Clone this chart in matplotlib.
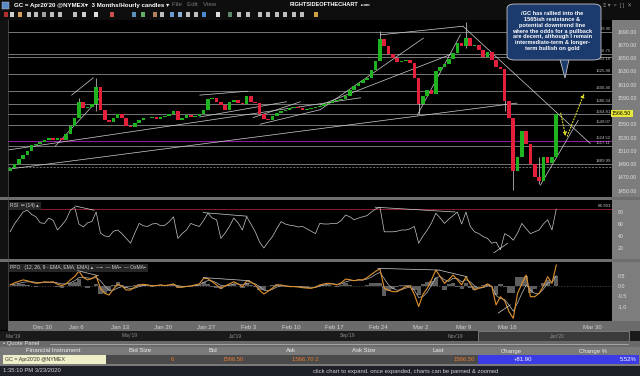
import numpy as np
import matplotlib.pyplot as plt
from matplotlib.patches import Rectangle, FancyBboxPatch, Polygon

plt.rcParams['font.family'] = ['Liberation Sans', 'DejaVu Sans']

W, H = 640, 376

# ---- data: 2 samples per trading day, Dec 23 2019 -> Mar 23 2020 ----
close = [1484, 1490, 1498, 1503, 1510, 1518, 1520, 1523, 1526, 1529,
         1527, 1530, 1527, 1536, 1548, 1560, 1584, 1574, 1576, 1581,
         1606, 1572, 1556, 1553, 1560, 1565, 1560, 1547, 1546, 1552,
         1556, 1560, 1559, 1561, 1558, 1561, 1563, 1566, 1570, 1556,
         1560, 1564, 1561, 1563, 1566, 1571, 1588, 1590, 1584, 1579,
         1571, 1584, 1586, 1582, 1580, 1592, 1584, 1582, 1566, 1558,
         1556, 1562, 1567, 1570, 1572, 1574, 1576, 1575, 1571, 1573,
         1574, 1576, 1578, 1580, 1582, 1585, 1586, 1588, 1593, 1601,
         1608, 1612, 1617, 1620, 1632, 1646, 1678, 1668, 1656, 1650,
         1644, 1646, 1647, 1642, 1620, 1580, 1592, 1602, 1596, 1630,
         1636, 1641, 1648, 1658, 1672, 1668, 1680, 1668, 1670, 1662,
         1652, 1659, 1647, 1636, 1634, 1585, 1560, 1480, 1500, 1540,
         1520, 1490, 1470, 1465, 1500, 1492, 1500, 1566]
first_open = 1480

spike_idx = [16, 20, 86, 95, 106, 115, 117, 123]
spike_hi = [1590, 1620, 1691, 1602, 1704, 1600, 1560, 1500]
spike_lo = [1568, 1570, 1660, 1565, 1665, 1570, 1451, 1460]

rsi = [47, 60, 70, 80, 83, 76, 72, 62, 61, 70, 66, 50, 58, 67, 83, 88, 60, 55, 62, 64,
       80, 45, 40, 39, 48, 50, 44, 36, 28, 45, 61, 57, 56, 60, 61, 57, 58, 64, 72, 36,
       44, 50, 61, 58, 56, 66, 78, 70, 67, 36, 45, 56, 70, 62, 50, 72, 60, 47, 30, 20,
       30, 39, 52, 64, 60, 58, 57, 55, 56, 52, 48, 44, 61, 60, 60, 61, 61, 66, 75, 72,
       67, 70, 72, 74, 80, 85, 88, 47, 47, 47, 48, 50, 50, 52, 56, 28, 40, 50, 62, 78,
       70, 61, 68, 74, 80, 60, 80, 56, 47, 44, 39, 36, 28, 30, 17, 44, 40, 33, 45, 61,
       52, 44, 47, 50, 60, 67, 50, 85]
rsi_level = 84.903

ppo = [0.05, 0.15, 0.22, 0.29, 0.25, 0.18, 0.13, 0.15, 0.2, 0.18,
       0.2, 0.08, 0.02, 0.1, 0.29, 0.45, 0.71, 0.4, 0.29, 0.35,
       0.49, -0.11, -0.35, -0.43, -0.15, 0.08, 0.0, -0.19, -0.19, -0.05,
       0.05, 0.08, 0.05, 0.0, 0.02, 0.05, 0.02, 0.05, 0.1, -0.06,
       -0.06, -0.02, 0.0, 0.05, 0.1, 0.37, 0.35, 0.2, 0.05, -0.11,
       0.0, 0.1, 0.2, 0.1, -0.03, 0.24, 0.2, 0.05, -0.2, -0.38,
       -0.25, -0.1, 0.05, 0.05, 0.0, -0.03, -0.03, -0.05, -0.08, -0.1,
       -0.11, -0.05, 0.05, 0.1, 0.13, 0.1, 0.05, 0.15, 0.33, 0.3,
       0.25, 0.3, 0.29, 0.4, 0.55, 0.7, 0.81, -0.11, -0.2, -0.27,
       -0.27, -0.15, -0.03, 0.0, -0.4, -0.98, -0.4, -0.11, 0.3, 0.76,
       0.45, 0.13, 0.3, 0.52, 0.3, 0.05, 0.44, 0.1, -0.19, -0.1,
       -0.05, 0.1, -0.03, -0.9, -0.51, -0.7, -1.22, -1.54, -0.35, 0.1,
       0.52, -0.51, -0.51, -0.35, 0.0, 0.44, 0.13, 1.0]
ppo_ma = [0.05, 0.08, 0.12, 0.18, 0.2, 0.2, 0.18, 0.17, 0.18, 0.18,
          0.18, 0.15, 0.1, 0.1, 0.15, 0.25, 0.4, 0.42, 0.38, 0.37,
          0.4, 0.25, 0.0, -0.2, -0.2, -0.1, -0.03, -0.08, -0.12, -0.1,
          -0.03, 0.02, 0.04, 0.03, 0.03, 0.04, 0.03, 0.04, 0.06, 0.02,
          -0.02, -0.02, -0.01, 0.02, 0.05, 0.18, 0.26, 0.24, 0.15, 0.03,
          0.0, 0.04, 0.1, 0.1, 0.05, 0.12, 0.15, 0.1, -0.02, -0.2,
          -0.23, -0.16, -0.05, 0.0, 0.0, -0.01, -0.02, -0.03, -0.05, -0.07,
          -0.09, -0.07, -0.01, 0.05, 0.09, 0.1, 0.08, 0.1, 0.2, 0.25,
          0.26, 0.28, 0.28, 0.33, 0.42, 0.55, 0.65, 0.35, 0.05, -0.12,
          -0.2, -0.18, -0.1, -0.05, -0.2, -0.55, -0.5, -0.3, 0.05, 0.4,
          0.45, 0.3, 0.22, 0.37, 0.35, 0.2, 0.3, 0.2, 0.0, -0.1,
          -0.08, 0.0, -0.01, -0.45, -0.6, -0.65, -0.9, -1.2, -0.8, -0.35,
          0.05, -0.2, -0.35, -0.35, -0.15, 0.15, 0.15, 0.5]

# horizontal support / resistance levels
hlines = [1689.90, 1656.75, 1652.16, 1625.90, 1600.40, 1580.34,
          1564.81, 1549.07, 1517.11, 1489.99]
purple_level = 1524.52
dashed_level = 1486.0
last_price = 1566.50

# trendlines: (day0, price0, day1, price1)
price_trend = [(-0.1, 1482, 59.2, 1582), (-0.1, 1511, 41.0, 1590),
               (7.4, 1594, 9.9, 1620), (5.5, 1517, 10.7, 1590),
               (22.3, 1594, 27.9, 1600), (22.3, 1561, 32.4, 1584),
               (28.5, 1560, 34.0, 1584), (29.3, 1550, 36.3, 1572),
               (43.3, 1685, 52.9, 1698), (52.9, 1698, 67.7, 1521),
               (36.3, 1572, 48.3, 1680), (47.6, 1564, 52.6, 1685),
               (36.3, 1579, 51.4, 1655), (61.9, 1458, 66.3, 1556)]
rsi_trend = [(7.8, 90, 10.0, 83), (22.7, 79, 27.8, 73),
             (42.7, 88, 52.0, 80), (56.5, 12, 58.1, 28)]
ppo_trend = [(8.1, 0.73, 10.5, 0.49), (22.7, 0.40, 28.1, 0.25),
             (43.0, 0.84, 50.1, 0.76), (50.1, 0.76, 53.4, 0.44),
             (57.0, -1.29, 58.4, -0.9)]
# projected path (yellow arrows)
proj_d = [64.2, 64.9, 67.1]
proj_p = [1571, 1528, 1600]

date_pos = [4, 8, 13, 18, 23, 28, 33, 38, 43, 48, 53, 58, 68]
date_lbl = ['Dec 30', 'Jan 6', 'Jan 13', 'Jan 20', 'Jan 27', 'Feb 3', 'Feb 10',
            'Feb 17', 'Feb 24', 'Mar 2', 'Mar 9', 'Mar 16', 'Mar 30']
price_ticks = list(range(1450, 1691, 20))

note = ("/GC has rallied into the\n1565ish resistance &\npotential downtrend line\n"
        "where the odds for a pullback\nare decent, although I remain\n"
        "intermediate-term & longer-\nterm bullish on gold")


def px(x0, y0, x1, y1):
    return [x0 / W, 1 - y1 / H, (x1 - x0) / W, (y1 - y0) / H]


def frect(x0, y0, x1, y1, color, z=-5, **kw):
    fig.add_artist(Rectangle((x0 / W, 1 - y1 / H), (x1 - x0) / W, (y1 - y0) / H,
                             transform=fig.transFigure, facecolor=color,
                             edgecolor=kw.pop('ec', 'none'), lw=kw.pop('lw', 0),
                             zorder=z, **kw))


def ftext(x, y, s, **kw):
    fig.text(x / W, 1 - y / H, s, va='center', **kw)


fig = plt.figure(figsize=(6.4, 3.76), dpi=100)
fig.patch.set_facecolor('black')

# background chrome
frect(0, 0, 640, 20, '#0e0e0e')
frect(0, 20, 8, 330, '#121212')
frect(612, 20, 640, 321, '#7d7d7d')
frect(0, 197, 640, 200, '#6e6e6e')
frect(0, 259, 640, 262, '#6e6e6e')
frect(8, 321, 640, 331, '#6b6b6b')
frect(0, 331, 640, 341, '#1a1a1a')
frect(478, 331, 629, 341, '#3b3b3b', ec='#9a9a9a', lw=0.5)
frect(0, 341, 640, 366, '#7a7a7a')
frect(0, 341, 640, 347, '#6a6a6a')
frect(3, 355, 106, 364, '#eeeec9')
frect(106, 355, 478, 364, '#4a4a4a')
frect(478, 355, 639, 364, '#3c3ce6')
frect(0, 366, 640, 376, '#1d2127')

n = len(close)
x = np.arange(n) / 2 + 0.25
c = np.array(close, dtype=float)
o = np.concatenate([[first_open], c[:-1]])

# ---------------- price panel ----------------
ax = fig.add_axes(px(8, 20, 612, 197))
ax.set_facecolor('black')
ax.set_xlim(0, 70.23)
ax.set_ylim(1440.2, 1707.4)
for lv in hlines:
    ax.axhline(lv, color='#8a8a8a', lw=0.6, zorder=1)
    below = lv == 1652.16
    ax.text(70.1, lv - 1.2 if below else lv + 1.2, f'{lv:.2f}', color='#bdbdbd',
            fontsize=3.1, ha='right', va='top' if below else 'bottom', zorder=6)
ax.axhline(purple_level, color='#8a1f9c', lw=0.8, zorder=1)
ax.text(70.1, purple_level + 1.2, f'{purple_level:.2f}', color='#bdbdbd',
        fontsize=3.1, ha='right', va='bottom', zorder=6)
ax.axhline(dashed_level, color='#9a9a9a', lw=0.5, ls=(0, (3, 2)), zorder=1)
for d0, p0, d1, p1 in price_trend:
    ax.plot([d0, d1], [p0, p1], color='#d0d0d0', lw=0.5, zorder=2)

up = c >= o
body = np.where(np.abs(c - o) < 0.8, 0.8, c - o)
ax.vlines(x[spike_idx], spike_lo, spike_hi, color='#d8d8d8', lw=0.5, zorder=3)
ax.bar(x[up], body[up], bottom=o[up], width=0.42, color='#1fb31f', zorder=4)
ax.bar(x[~up], body[~up], bottom=o[~up], width=0.42, color='#e3203c', zorder=4)

ax.annotate('', xy=(proj_d[1], proj_p[1]), xytext=(proj_d[0], proj_p[0]),
            arrowprops=dict(arrowstyle='-|>', color='#e6e22a', lw=0.8, ls=':',
                            mutation_scale=5), zorder=7)
ax.annotate('', xy=(proj_d[2], proj_p[2]), xytext=(proj_d[1], proj_p[1]),
            arrowprops=dict(arrowstyle='-|>', color='#e6e22a', lw=0.8, ls=':',
                            mutation_scale=5), zorder=7)

ax.yaxis.tick_right()
ax.set_yticks(price_ticks)
# the 1570 label is covered by the last-price marker
ax.set_yticklabels(['' if abs(t - last_price) < 8 else f'{t:.2f}' for t in price_ticks])
ax.tick_params(axis='y', length=0, pad=4, labelsize=3.8, labelcolor='#e2e2e2')
ax.set_xticks([])
for s in ax.spines.values():
    s.set_visible(False)
ax.text(1.0, (last_price - 1440.2) / (1707.4 - 1440.2), f'{last_price:.2f}',
        transform=ax.transAxes, fontsize=3.8, color='black', ha='left', va='center',
        bbox=dict(boxstyle='square,pad=0.25', fc='#e8e83a', ec='none'), zorder=8,
        clip_on=False)

# ---------------- RSI panel ----------------
ar = fig.add_axes(px(8, 200, 612, 259))
ar.set_facecolor('black')
ar.set_xlim(0, 70.23)
ar.set_ylim(1.7, 100)
ar.axhline(rsi_level, color='#8c1a30', lw=0.7)
ar.plot(x, rsi, color='#c9c9c9', lw=0.5)
for d0, v0, d1, v1 in rsi_trend:
    ar.plot([d0, d1], [v0, v1], color='#d0d0d0', lw=0.5)
ar.text(70.1, rsi_level + 1, f'{rsi_level:.3f}', color='#bdbdbd', fontsize=3.2,
        ha='right', va='bottom')
ar.yaxis.tick_right()
ar.set_yticks([20, 40, 60, 80])
ar.tick_params(axis='y', length=0, pad=4, labelsize=3.8, labelcolor='#e2e2e2')
ar.set_xticks([])
for s in ar.spines.values():
    s.set_visible(False)
ar.text(0.004, 0.9, 'RSI  \u2550 (14) \u25b4', transform=ar.transAxes, fontsize=3.6,
        color='#d0d0d0', va='center',
        bbox=dict(boxstyle='square,pad=0.3', fc='#262626', ec='none'))

# ---------------- PPO panel ----------------
ap = fig.add_axes(px(8, 262, 612, 321))
ap.set_facecolor('black')
ap.set_xlim(0, 70.23)
ap.set_ylim(-1.667, 1.143)
hist = np.array(ppo) - np.array(ppo_ma)
ap.bar(x, hist, width=0.5, color='#5e5e5e', zorder=1)
ap.axhline(0, color='#505050', lw=0.5, ls=(0, (2, 2)), zorder=0)
ap.plot(x, ppo_ma, color='#bdbdbd', lw=0.5, zorder=2)
ap.plot(x, ppo, color='#e0922e', lw=0.8, zorder=3)
for d0, v0, d1, v1 in ppo_trend:
    ap.plot([d0, d1], [v0, v1], color='#d0d0d0', lw=0.5, zorder=4)
ap.yaxis.tick_right()
ap.set_yticks([0.5, 0.0, -0.5, -1.0])
ap.set_yticklabels(['0.5', '0.0', '-0.5', '-1.0'])
ap.tick_params(axis='y', length=0, pad=4, labelsize=3.8, labelcolor='#e2e2e2')
ap.set_xticks(date_pos)
ap.set_xticklabels(date_lbl)
ap.tick_params(axis='x', length=0, pad=3, labelsize=4.3, labelcolor='#d4d4d4')
for s in ap.spines.values():
    s.set_visible(False)
ap.text(0.004, 0.9, 'PPO   (12, 26, 9 - EMA, EMA, EMA) \u25b4  \u2014\u25aa  \u2014 MA\u25aa  \u2014 OsMA\u25aa',
        transform=ap.transAxes, fontsize=3.6, color='#d0d0d0', va='center',
        bbox=dict(boxstyle='square,pad=0.3', fc='#262626', ec='none'))

# ---------------- callout ----------------
fig.add_artist(FancyBboxPatch((507 / W, 1 - 60 / H), 94 / W, 56 / H,
                              boxstyle='round,pad=0,rounding_size=0.012',
                              transform=fig.transFigure, fc='#1b3a6e',
                              ec='#c8c8c8', lw=0.6, zorder=20))
fig.add_artist(Polygon([[560 / W, 1 - 59.5 / H], [569 / W, 1 - 59.5 / H],
                        [565 / W, 1 - 78 / H]], closed=True,
                       transform=fig.transFigure, fc='#1b3a6e', ec='#c8c8c8',
                       lw=0.6, zorder=19))
ftext(552.5, 31, note, fontsize=4.1, color='white', fontweight='bold', ha='center',
      linespacing=1.17, zorder=21)

# ---------------- title / toolbar ----------------
fig.add_artist(Rectangle((2 / W, 1 - 9 / H), 7 / W, 7 / H, transform=fig.transFigure,
                         fc='#5a8ac8', ec='#cccccc', lw=0.3))
ftext(14, 5, 'GC = Apr20\'20 @NYMEX\u25be  3 Months/Hourly candles \u25be', fontsize=4.4,
      color='white', fontweight='bold')
ftext(172, 5, 'File   Edit   View', fontsize=4.4, color='#7a7a7a')
ftext(290, 4.5, 'RIGHTSIDEOFTHECHART', fontsize=4.1, color='white', fontweight='heavy')
ftext(361, 5.5, '.com', fontsize=3.1, color='white', fontweight='bold')
ftext(603, 5, '\u2261 \u25be  =  [ ]  \u2715', fontsize=4, color='#8a8a8a')
icon_x = [4, 10, 18, 27, 34, 42, 50, 58, 73, 82, 94, 110, 132, 141, 153, 160, 170,
          178, 186, 194, 202, 216, 228, 237, 246, 258, 266, 275, 283, 292, 300, 314]
icon_c = ['#b03030', '#d0d0d0', '#d8a060', '#c0c0c0', '#c0c0c0', '#a0a0a0', '#c0c0c0',
          '#c0c0c0', '#c0c0c0', '#d0d0d0', '#e0e0e0', '#d05050', '#6090c0', '#60b060',
          '#b08060', '#c0c0c0', '#6a9ad0', '#8ab0d8', '#c0c0c0', '#c0c0c0', '#4a8ad0',
          '#e0e0e0', '#5a8a6a', '#c0c0c0', '#c0c0c0', '#c0c0c0', '#c0c0c0', '#c0c0c0',
          '#c0c0c0', '#c0c0c0', '#c0c0c0', '#d0a040']
for ix, ic in zip(icon_x, icon_c):
    frect(ix, 12, ix + 4, 17, ic, z=2)
fig.add_artist(plt.Line2D([8 / W, 8 / W], [1 - 20 / H, 1 - 321 / H],
                          transform=fig.transFigure, color='#5a5a5a', lw=0.5))

# ---------------- navigator ----------------
nav = [(6, "Mar'19"), (122, "May'19"), (229, "Jul'19"), (340, "Sep'19"),
       (448, "Nov'19"), (550, "Jan'20")]
for nx, nl in nav:
    ftext(nx, 336, nl, fontsize=3.6, color='#8a8a8a')

# ---------------- quote panel ----------------
ftext(3, 344, '\u2022 Quote Panel', fontsize=4.2, color='#e6e6e6')
fig.add_artist(plt.Line2D([50 / W, 628 / W], [1 - 344 / H, 1 - 344 / H],
                          transform=fig.transFigure, color='#bbbbbb', lw=0.5))
cols = [(53, 'Financial Instrument'), (140, 'Bid Size'), (213, 'Bid'), (291, 'Ask'),
        (364, 'Ask Size'), (438, 'Last'), (511, 'Change'), (593, 'Change %')]
for cx, cl in cols:
    ftext(cx, 351, cl, fontsize=4.3, color='#ececec', ha='center')
ftext(5, 359.5, 'GC = Apr20\'20 @NYMEX', fontsize=3.8, color='#303030')
row = [(174, '6'), (244, '1566.50'), (318, '1566.70 2'), (475, '1566.50')]
for rx, rl in row:
    ftext(rx, 359.5, rl, fontsize=4.3, color='#e8792c', ha='right')
ftext(523, 359.5, '+81.90', fontsize=4.3, color='white', ha='center')
ftext(637, 359.5, '5.52%', fontsize=4.3, color='white', ha='right')

ftext(3, 371, '1:35:10 PM 3/23/2020', fontsize=4.2, color='#d0d0d0')
ftext(406, 371, 'click chart to expand. once expanded, charts can be panned & zoomed',
      fontsize=4.2, color='#d0d0d0', ha='center')

fig.savefig('out.png', dpi=100, facecolor=fig.get_facecolor())
plt.close(fig)
